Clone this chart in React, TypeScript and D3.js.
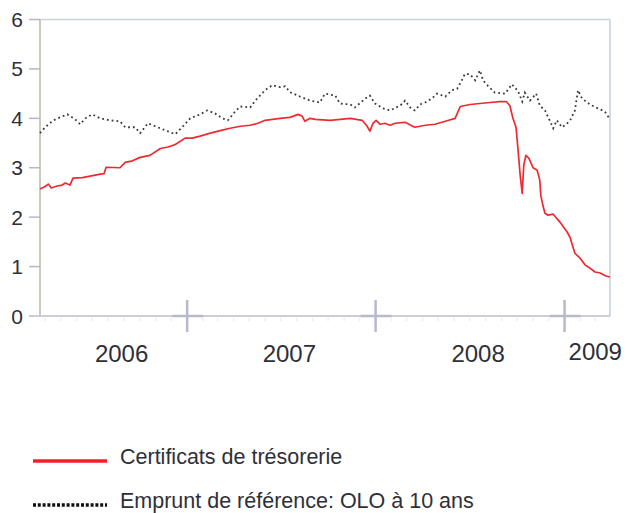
import React from "react";
import * as d3 from "d3";

// Certificats de trésorerie (short-term treasury certificates), %
const tcDates = [
  "2006-03-22","2006-04-01","2006-04-07","2006-04-13","2006-04-24","2006-05-04","2006-05-10","2006-05-19",
  "2006-05-25","2006-06-12","2006-06-27","2006-07-17","2006-07-24","2006-07-28","2006-08-24","2006-09-03",
  "2006-09-17","2006-10-02","2006-10-21","2006-11-10","2006-11-25","2006-12-09","2006-12-28","2007-01-11",
  "2007-01-26","2007-02-15","2007-03-06","2007-03-25","2007-04-14","2007-05-03","2007-05-18","2007-06-01",
  "2007-06-30","2007-07-19","2007-08-04","2007-08-12","2007-08-17","2007-08-27","2007-09-06","2007-10-05",
  "2007-11-13","2007-12-06","2007-12-15","2007-12-21","2007-12-27","2008-01-02","2008-01-10","2008-01-19",
  "2008-01-29","2008-02-08","2008-02-27","2008-03-17","2008-04-06","2008-04-25","2008-05-15","2008-06-03",
  "2008-06-13","2008-07-02","2008-07-21","2008-08-10","2008-08-29","2008-09-10","2008-09-17","2008-09-23",
  "2008-09-29","2008-10-03","2008-10-07","2008-10-11","2008-10-14","2008-10-18","2008-10-24","2008-11-01",
  "2008-11-09","2008-11-14","2008-11-16","2008-11-20","2008-11-24","2008-11-30","2008-12-10","2008-12-23",
  "2009-01-06","2009-01-12","2009-01-21","2009-01-31","2009-02-10","2009-02-19","2009-03-01","2009-03-11",
  "2009-03-22","2009-03-30",
];
const tcValues = [
  2.57, 2.62, 2.67, 2.59, 2.63, 2.65, 2.69, 2.65,
  2.79, 2.80, 2.83, 2.87, 2.88, 3.01, 3.00, 3.11,
  3.14, 3.21, 3.25, 3.39, 3.42, 3.47, 3.60, 3.60,
  3.64, 3.70, 3.75, 3.80, 3.84, 3.86, 3.90, 3.96,
  4.00, 4.02, 4.08, 4.04, 3.94, 4.00, 3.98, 3.96,
  4.00, 3.96, 3.85, 3.74, 3.90, 3.96, 3.88, 3.90,
  3.86, 3.90, 3.92, 3.82, 3.86, 3.88, 3.94, 4.00,
  4.24, 4.28, 4.30, 4.32, 4.34, 4.34, 4.26, 4.00,
  3.82, 3.35, 2.85, 2.48, 3.05, 3.25, 3.19, 3.00,
  2.95, 2.75, 2.44, 2.24, 2.08, 2.04, 2.06, 1.90,
  1.70, 1.58, 1.27, 1.17, 1.03, 0.97, 0.89, 0.87,
  0.81, 0.79,
];

// Emprunt de référence: OLO à 10 ans (10-year OLO), %
const oloDates = [
  "2006-03-22","2006-04-01","2006-04-17","2006-04-30","2006-05-14","2006-05-29","2006-06-08","2006-06-18",
  "2006-07-01","2006-07-17","2006-08-04","2006-08-24","2006-09-03","2006-09-22","2006-10-02","2006-10-17",
  "2006-10-31","2006-11-19","2006-12-09","2006-12-24","2007-01-07","2007-01-26","2007-02-09","2007-02-24",
  "2007-03-10","2007-03-21","2007-04-04","2007-04-14","2007-05-03","2007-05-13","2007-06-01","2007-06-15",
  "2007-06-30","2007-07-10","2007-07-19","2007-08-08","2007-08-27","2007-09-15","2007-09-25","2007-10-15",
  "2007-10-24","2007-11-13","2007-11-22","2007-12-12","2007-12-21","2007-12-31","2008-01-15","2008-01-29",
  "2008-02-18","2008-02-27","2008-03-08","2008-03-17","2008-03-27","2008-04-06","2008-04-19","2008-04-29",
  "2008-05-15","2008-05-28","2008-06-07","2008-06-16","2008-06-22","2008-07-02","2008-07-12","2008-07-21",
  "2008-07-27","2008-08-06","2008-08-19","2008-09-08","2008-09-21","2008-10-03","2008-10-11","2008-10-16",
  "2008-10-26","2008-11-07","2008-11-14","2008-11-24","2008-12-04","2008-12-10","2008-12-17","2008-12-27",
  "2009-01-04","2009-01-12","2009-01-21","2009-01-27","2009-02-04","2009-02-19","2009-03-07","2009-03-20",
  "2009-03-30",
];
const oloValues = [
  3.70, 3.82, 3.96, 4.02, 4.08, 3.98, 3.88, 4.00,
  4.08, 4.00, 3.96, 3.94, 3.82, 3.82, 3.70, 3.90,
  3.84, 3.76, 3.68, 3.84, 4.00, 4.08, 4.16, 4.10,
  4.00, 3.96, 4.14, 4.24, 4.22, 4.36, 4.57, 4.67,
  4.63, 4.65, 4.53, 4.44, 4.36, 4.32, 4.50, 4.46,
  4.30, 4.28, 4.22, 4.40, 4.46, 4.30, 4.20, 4.16,
  4.26, 4.36, 4.22, 4.16, 4.28, 4.32, 4.40, 4.50,
  4.44, 4.57, 4.60, 4.77, 4.90, 4.89, 4.77, 4.97,
  4.77, 4.65, 4.52, 4.50, 4.69, 4.55, 4.34, 4.52,
  4.36, 4.50, 4.26, 4.16, 3.94, 3.80, 3.96, 3.82,
  3.88, 3.96, 4.16, 4.57, 4.40, 4.28, 4.20, 4.14,
  3.98,
];

const yTicks = [0, 1, 2, 3, 4, 5, 6];
const yearLabels = ["2006", "2007", "2008", "2009"];
const yearStarts = ["2007-01-01", "2008-01-01", "2009-01-01"];
const domainDates = ["2006-03-22", "2009-03-30"];
const legendLabels = ["Certificats de trésorerie", "Emprunt de référence: OLO à 10 ans"];

const W = 627;
const H = 513;
const plot = { left: 40, right: 610, top: 19.5, bottom: 316 };
const FONT = "'Liberation Sans', Arial, sans-serif";

export default function App() {
  const parse = d3.timeParse("%Y-%m-%d");
  const x = d3
    .scaleTime()
    .domain(domainDates.map((d) => parse(d) as Date))
    .range([plot.left, plot.right]);
  const y = d3.scaleLinear().domain([0, 6]).range([plot.bottom, plot.top]);

  const line = d3
    .line<[Date, number]>()
    .x((d) => x(d[0]))
    .y((d) => y(d[1]));

  const tc: [Date, number][] = tcDates.map((d, i) => [parse(d) as Date, tcValues[i]]);
  const olo: [Date, number][] = oloDates.map((d, i) => [parse(d) as Date, oloValues[i]]);

  const boundaries = yearStarts.map((d) => x(parse(d) as Date));
  const edges = [plot.left, ...boundaries, plot.right];
  const labelX = yearLabels.map((_, i) => (edges[i] + edges[i + 1]) / 2 + 8);

  const months = d3.timeMonth.range(x.domain()[0], x.domain()[1]);

  return (
    <svg
      width={W}
      height={H}
      viewBox={`0 0 ${W} ${H}`}
      style={{ position: "absolute", left: 0, top: 0, background: "#fff" }}
    >
      {/* frame */}
      <line x1={plot.left} x2={plot.right} y1={plot.top} y2={plot.top} stroke="#c9d3d6" strokeWidth={1.5} />
      <line x1={plot.right} x2={plot.right} y1={plot.top} y2={plot.bottom} stroke="#c2d0d6" strokeWidth={1.5} />
      <line x1={plot.left} x2={plot.left} y1={plot.top} y2={plot.bottom} stroke="#cbcbbd" strokeWidth={2} />

      {/* y axis ticks and labels */}
      {yTicks.map((t) => (
        <g key={t}>
          <line x1={29} x2={plot.left} y1={y(t)} y2={y(t)} stroke="#b6b6c6" strokeWidth={1.5} />
          <text
            x={23}
            y={y(t)}
            dy="0.36em"
            textAnchor="end"
            fontFamily={FONT}
            fontSize={21}
            fill="#2e3038"
          >
            {t}
          </text>
        </g>
      ))}

      {/* faint monthly ticks */}
      {months.map((m, i) => (
        <line
          key={i}
          x1={x(m)}
          x2={x(m)}
          y1={plot.bottom + 2}
          y2={plot.bottom + 5}
          stroke="#ececf2"
          strokeWidth={1.5}
        />
      ))}

      {/* x axis */}
      <line x1={29} x2={plot.right} y1={plot.bottom} y2={plot.bottom} stroke="#cdcdd9" strokeWidth={2} />
      {boundaries.map((bx, i) => (
        <g key={i} stroke="#b9b9cc" strokeWidth={2.5}>
          <line x1={bx} x2={bx} y1={plot.bottom - 16} y2={plot.bottom + 16} />
          <line x1={bx - 15} x2={bx + 16} y1={plot.bottom} y2={plot.bottom} />
        </g>
      ))}
      {yearLabels.map((lab, i) => (
        <text
          key={lab}
          x={labelX[i]}
          y={i === 3 ? 360 : 362}
          textAnchor="middle"
          fontFamily={FONT}
          fontSize={24}
          fill="#2e3038"
        >
          {lab}
        </text>
      ))}

      {/* series */}
      <path
        d={line(olo) || ""}
        fill="none"
        stroke="#3a3a3a"
        strokeWidth={1.8}
        strokeDasharray="1.8 3"
        strokeLinecap="butt"
      />
      <path
        d={line(tc) || ""}
        fill="none"
        stroke="#ee2a2e"
        strokeWidth={1.7}
        strokeLinejoin="round"
      />

      {/* legend */}
      <line x1={33} x2={107} y1={461} y2={461} stroke="#ec2228" strokeWidth={3.5} />
      <text x={120} y={464} fontFamily={FONT} fontSize={21.5} fill="#2e3038">
        {legendLabels[0]}
      </text>
      <line
        x1={33}
        x2={107}
        y1={505}
        y2={505}
        stroke="#111"
        strokeWidth={3.5}
        strokeDasharray="3 1.8"
      />
      <text x={120} y={508} fontFamily={FONT} fontSize={21.5} fill="#2e3038">
        {legendLabels[1]}
      </text>
    </svg>
  );
}
